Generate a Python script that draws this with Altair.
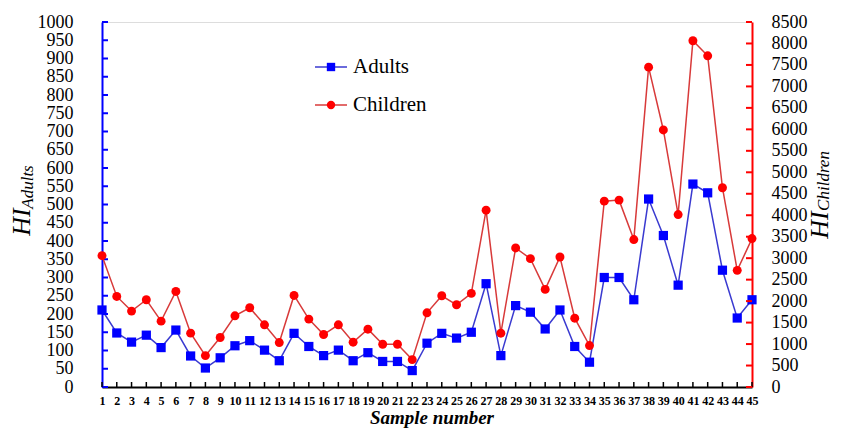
import altair as alt
import pandas as pd

samples = list(range(1, 46))
adults = [211, 148, 123, 142, 108, 156, 85, 52, 80, 113, 127, 101, 72, 147, 111,
          86, 101, 72, 94, 70, 70, 45, 120, 147, 134, 150, 283, 86, 223, 205,
          159, 211, 111, 68, 300, 300, 239, 515, 415, 279, 556, 532, 320, 189, 239]
children = [3059, 2109, 1767, 2032, 1534, 2226, 1254, 731, 1152, 1658, 1845, 1448,
            1035, 2133, 1581, 1222, 1448, 1043, 1347, 996, 996, 638, 1728, 2125,
            1915, 2180, 4118, 1253, 3238, 2989, 2273, 3028, 1603, 965, 4328, 4352,
            3433, 7449, 5986, 4016, 8064, 7713, 4640, 2716, 3456]
left_ticks = list(range(0, 1001, 50))
right_ticks = list(range(0, 8501, 500))
series = ["Adults", "Children"]

W, H = 650, 365
FONT = "Liberation Serif"
BLUE, BLUE_LINE = "#0000ff", "#3a3ad0"
RED, RED_LINE = "#ff0000", "#d83a3a"

df = pd.DataFrame({"Sample": samples, "Adults": adults, "Children": children})
lt = pd.DataFrame({"t": left_ticks})
rt = pd.DataFrame({"t": right_ticks})
leg = pd.DataFrame({"series": series})

xscale = alt.Scale(domain=[1, 45], nice=False, zero=False)
xaxis = alt.Axis(values=samples, title=None, grid=False, ticks=False, tickSize=0,
                 labelFont=FONT, labelFontWeight="bold", labelFontSize=12,
                 labelColor="black", labelPadding=8, labelAngle=0,
                 labelFlush=False, labelOverlap=False, domainColor="black",
                 domainWidth=2, format="d")
ls = alt.Scale(domain=[0, 1000], nice=False)
rs = alt.Scale(domain=[0, 8500], nice=False)
laxis = alt.Axis(orient="left", values=left_ticks, title=None, grid=False,
                 ticks=False, tickSize=0, labelFont=FONT, labelFontSize=18,
                 labelColor="black", labelPadding=29, labelOverlap=False,
                 domainColor=BLUE, domainWidth=2, format="d")
raxis = alt.Axis(orient="right", values=right_ticks, title=None, grid=False,
                 ticks=False, tickSize=0, labelFont=FONT, labelFontSize=18,
                 labelColor="black", labelPadding=19, labelOverlap=False,
                 domainColor=RED, domainWidth=2, format="d")

x = alt.X("Sample:Q", scale=xscale, axis=xaxis)

a_line = alt.Chart(df).mark_line(color=BLUE_LINE, strokeWidth=1.5).encode(
    x=x, y=alt.Y("Adults:Q", scale=ls, axis=laxis))
a_pts = alt.Chart(df).mark_point(shape="square", filled=True, size=85,
                                 color=BLUE, opacity=1).encode(
    x=x, y=alt.Y("Adults:Q", scale=ls, axis=laxis))
a_ticks = alt.Chart(lt).mark_rule(color=BLUE, strokeWidth=2).encode(
    y=alt.Y("t:Q", scale=ls, axis=laxis), x=alt.value(0), x2=alt.value(6))
x_ticks = alt.Chart(df).mark_rule(color="black", strokeWidth=1.5).encode(
    x=x, y=alt.value(H - 5), y2=alt.value(H))
adult_group = alt.layer(a_line, a_pts, a_ticks, x_ticks)

c_line = alt.Chart(df).mark_line(color=RED_LINE, strokeWidth=1.5).encode(
    x=x, y=alt.Y("Children:Q", scale=rs, axis=raxis))
c_pts = alt.Chart(df).mark_point(shape="circle", filled=True, size=80,
                                 color=RED, opacity=1).encode(
    x=x, y=alt.Y("Children:Q", scale=rs, axis=raxis))
c_ticks = alt.Chart(rt).mark_rule(color=RED, strokeWidth=2).encode(
    y=alt.Y("t:Q", scale=rs, axis=raxis), x=alt.value(W - 6), x2=alt.value(W))
child_group = alt.layer(c_line, c_pts, c_ticks)

# legend
legend_layers = []
for i, (name, lc, mc, shp) in enumerate([(series[0], BLUE_LINE, BLUE, "square"),
                                         (series[1], RED_LINE, RED, "circle")]):
    yy = 45 + i * 38
    base = alt.Chart(leg).transform_filter(alt.datum.series == name)
    legend_layers.append(base.mark_rule(color=lc, strokeWidth=1.5).encode(
        x=alt.value(213), x2=alt.value(245), y=alt.value(yy)))
    legend_layers.append(base.mark_point(shape=shp, filled=True, size=70,
                                         color=mc, opacity=1).encode(
        x=alt.value(229), y=alt.value(yy)))
    legend_layers.append(base.mark_text(font=FONT, fontSize=21, align="left",
                                        baseline="middle", color="black").encode(
        x=alt.value(251), y=alt.value(yy), text="series:N"))

one = alt.Chart(leg).transform_filter(alt.datum.series == series[0])
titles = [
    one.mark_text(text="HI", font=FONT, fontStyle="italic", fontSize=26, angle=270,
                  align="center", baseline="middle", color="black").encode(
        x=alt.value(-80), y=alt.value(200)),
    one.mark_text(text="Adults", font=FONT, fontStyle="italic", fontSize=17, angle=270,
                  align="center", baseline="middle", color="black").encode(
        x=alt.value(-74), y=alt.value(165)),
    one.mark_text(text="HI", font=FONT, fontStyle="italic", fontSize=26, angle=270,
                  align="center", baseline="middle", color="black").encode(
        x=alt.value(718), y=alt.value(203)),
    one.mark_text(text="Children", font=FONT, fontStyle="italic", fontSize=17, angle=270,
                  align="center", baseline="middle", color="black").encode(
        x=alt.value(722), y=alt.value(159)),
    one.mark_text(text="Sample number", font=FONT, fontStyle="italic",
                  fontWeight="bold", fontSize=19, align="center",
                  baseline="alphabetic", color="black").encode(
        x=alt.value(330), y=alt.value(402)),
]

chart = alt.layer(adult_group, child_group, *legend_layers, *titles).resolve_scale(
    y="independent"
).properties(
    width=W, height=H, autosize="none",
    padding={"left": 94, "top": 14, "right": 81, "bottom": 42},
).configure_view(stroke=None).configure(background="white")

chart.save("out.html", embed_options={"renderer": "svg", "actions": False})
